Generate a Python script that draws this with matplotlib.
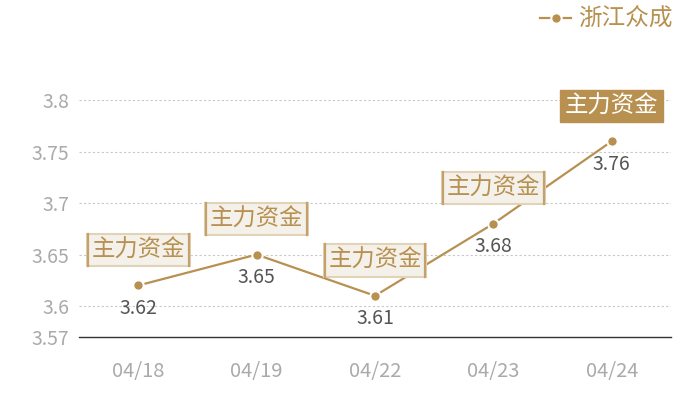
import matplotlib
matplotlib.use("Agg")
import matplotlib.pyplot as plt
from matplotlib.lines import Line2D

plt.rcParams['font.family'] = ['Noto Sans CJK SC', 'DejaVu Sans']

dates = ["04/18", "04/19", "04/22", "04/23", "04/24"]
values = [3.62, 3.65, 3.61, 3.68, 3.76]
value_labels = ["3.62", "3.65", "3.61", "3.68", "3.76"]
tag_text = "主力资金"
highlight = [False, False, False, False, True]
series_name = "浙江众成"
yticks = [3.57, 3.6, 3.65, 3.7, 3.75, 3.8]
ytick_labels = ["3.57", "3.6", "3.65", "3.7", "3.75", "3.8"]

GOLD = "#b8904f"
fig = plt.figure(figsize=(7, 4), dpi=100)
ax = fig.add_axes([79/700, 1-337/400, (671-79)/700, (337-100)/400])

x = list(range(len(dates)))
ax.plot(x, values, color=GOLD, lw=1.6, marker='o', ms=7.5, mfc=GOLD,
        mec='white', mew=1.5, zorder=3, label=series_name)

ax.set_xlim(-0.5, len(dates) - 0.5)
ax.set_ylim(3.57, 3.8)
ax.set_yticks(yticks)
ax.set_yticklabels(ytick_labels)
ax.set_xticks(x)
ax.set_xticklabels(dates)
ax.tick_params(axis='both', length=0, colors='#aaaaaa', labelsize=14)
ax.tick_params(axis='x', pad=17, labelsize=14.5)
ax.tick_params(axis='y', pad=7)
for s in ['top', 'right', 'left']:
    ax.spines[s].set_visible(False)
ax.spines['bottom'].set_color('#333333')
ax.spines['bottom'].set_linewidth(1)
for yv in yticks[1:]:
    ax.axhline(yv, color='#c8c8c8', lw=0.8, ls=(0, (2, 2)), zorder=1)

texts = []
for xi, v, lab, hl in zip(x, values, value_labels, highlight):
    ax.annotate(lab, (xi, v), xytext=(0, -16.5), textcoords='offset points',
                ha='center', va='center', fontsize=14, color='#555555', zorder=4)
    if hl:
        bb = dict(boxstyle='square,pad=0.2', fc=GOLD, ec=GOLD, lw=1)
        tc = 'white'
    else:
        bb = dict(boxstyle='square,pad=0.2', fc='#f4f0ea', ec='#e2d2b6', lw=1.5)
        tc = GOLD
    t = ax.annotate(tag_text, (xi, v), xytext=(0, 25.5), textcoords='offset points',
                    ha='center', va='center', fontsize=16.8, color=tc, bbox=bb, zorder=5)
    texts.append((t, hl))

leg = ax.legend(loc='upper right', bbox_to_anchor=(682/700, 1.004), bbox_transform=fig.transFigure,
                frameon=False, fontsize=17, handlelength=1.3, handletextpad=0.3,
                borderaxespad=0.0)
for txt in leg.get_texts():
    txt.set_color(GOLD)
for h in leg.legend_handles:
    h.set_linestyle('-')

fig.canvas.draw()
for t, hl in texts:
    if hl:
        continue
    ext = t.get_bbox_patch().get_window_extent()
    for xe in (ext.x0 + 1, ext.x1 - 1):
        fig.add_artist(Line2D([xe, xe], [ext.y0, ext.y1], transform=None,
                              color='#c4a06a', lw=1.6, zorder=6))

fig.savefig("out.png", dpi=100)
